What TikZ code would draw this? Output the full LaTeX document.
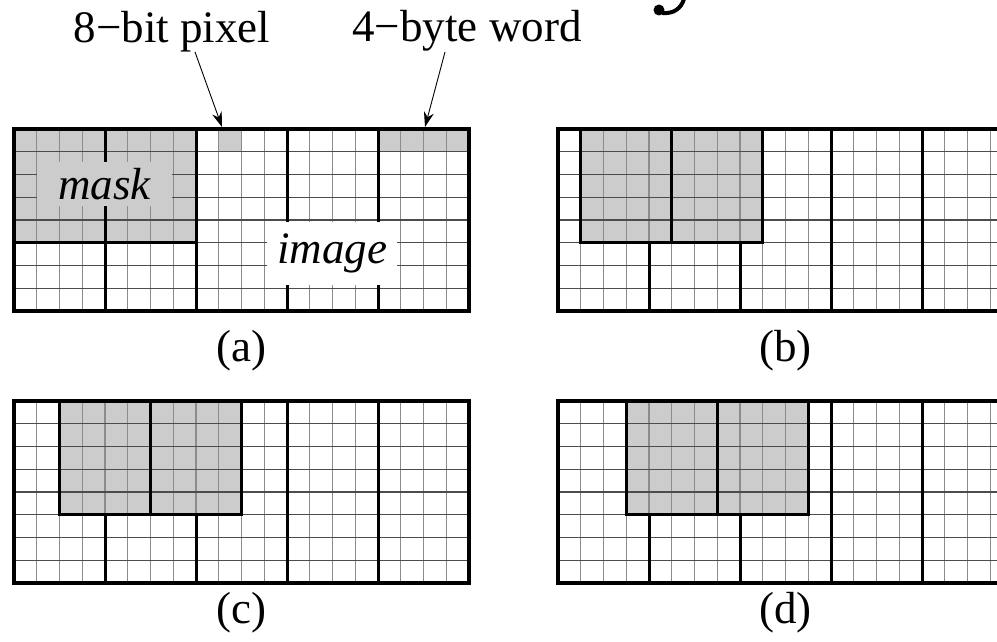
\documentclass[tikz,border=0pt]{standalone}
\usepackage{fontspec}
\setmainfont{Liberation Serif}
\usetikzlibrary{arrows.meta}
\definecolor{maskgray}{gray}{0.8}
\definecolor{thinv}{gray}{0.55}
\definecolor{thinh}{gray}{0.3}
\def\cw{22.75}
\tikzset{
  thingridv/.style={draw=thinv, line width=1.3pt},
  thingridh/.style={draw=thinh, line width=1.2pt},
  thickline/.style={draw=black, line width=3pt, line cap=rect},
  outerbox/.style={draw=black, line width=3.2pt},
  lbl/.style={font=\fontsize{45}{50}\selectfont, inner sep=0pt},
  pointer/.style={-{Stealth[length=15pt,width=10pt]}, line width=0.9pt},
}
\newcommand\drawpanel[3]{%
  \begin{scope}[shift={(#1,#2)}]
    \fill[maskgray] ({#3*\cw},0) rectangle ({(#3+8)*\cw},{5*\cw});
    \foreach \i in {1,...,19} \draw[thingridv] ({\i*\cw},0) -- ({\i*\cw},{8*\cw});
    \foreach \j in {1,...,7} \draw[thingridh] (0,{\j*\cw}) -- ({20*\cw},{\j*\cw});
    \foreach \k in {4,8,12,16}{%
      \pgfmathtruncatemacro\inm{and(\k>#3,\k<#3+8)}%
      \ifnum\inm=1
        \draw[thickline] ({\k*\cw},{5*\cw}) -- ({\k*\cw},{8*\cw});
      \else
        \draw[thickline] ({\k*\cw},0) -- ({\k*\cw},{8*\cw});
      \fi
    }
    \draw[thickline] ({(#3+4)*\cw},0) -- ({(#3+4)*\cw},{5*\cw});
    \draw[thickline] ({#3*\cw},0) -- ({#3*\cw},{5*\cw}) -- ({(#3+8)*\cw},{5*\cw}) -- ({(#3+8)*\cw},0);
    \draw[outerbox] (0,0) rectangle ({20*\cw},{8*\cw});
  \end{scope}
}
\begin{document}
\begin{tikzpicture}[x=1pt,y=-1pt]
  \useasboundingbox (0,0) rectangle (997,642);
  \clip (0,0) rectangle (997,642);
  \fill[white] (0,0) rectangle (997,642);

  % extra shaded cells of panel (a)
  \begin{scope}[shift={(14,129)}]
    \fill[maskgray] ({9*\cw},0) rectangle ({10*\cw},\cw);
    \fill[maskgray] ({16*\cw},0) rectangle ({20*\cw},\cw);
  \end{scope}

  \drawpanel{14}{129}{0}
  \drawpanel{558}{129}{1}
  \drawpanel{14}{401}{2}
  \drawpanel{558}{401}{3}

  % in-picture labels of panel (a)
  \node[lbl, fill=maskgray, minimum width=135pt, minimum height=44pt,
        font=\fontsize{45}{50}\selectfont\itshape] (mask) at (104.5,184) {mask};
  \node[lbl, fill=white, minimum width=130pt, minimum height=63pt,
        font=\fontsize{45}{50}\selectfont\itshape] (image) at (332,253.5) {image};

  % captions
  \node[lbl] (capa) at (241.5,351) {(a)};
  \node[lbl] (capb) at (785.5,351) {(b)};
  \node[lbl] (capc) at (241.5,613) {(c)};
  \node[lbl] (capd) at (785.5,613) {(d)};

  % pointer labels
  \node[lbl, anchor=base] (pix) at (172,43) {8−bit pixel};
  \node[lbl, anchor=base] (word) at (467,42) {4−byte word};
  \coordinate (pixs) at (195,52);
  \coordinate (pixe) at (222,127);
  \coordinate (words) at (445,52);
  \coordinate (worde) at (425,127);
  \draw[pointer] (pixs) -- (pixe);
  \draw[pointer] (words) -- (worde);

  % fragment of a large glyph cut by the top edge
  \draw[line width=4pt] (684,-1) .. controls (681,9) and (673,14) .. (662,13);
  \fill (659,10) circle (5.5);
\end{tikzpicture}
\end{document}
